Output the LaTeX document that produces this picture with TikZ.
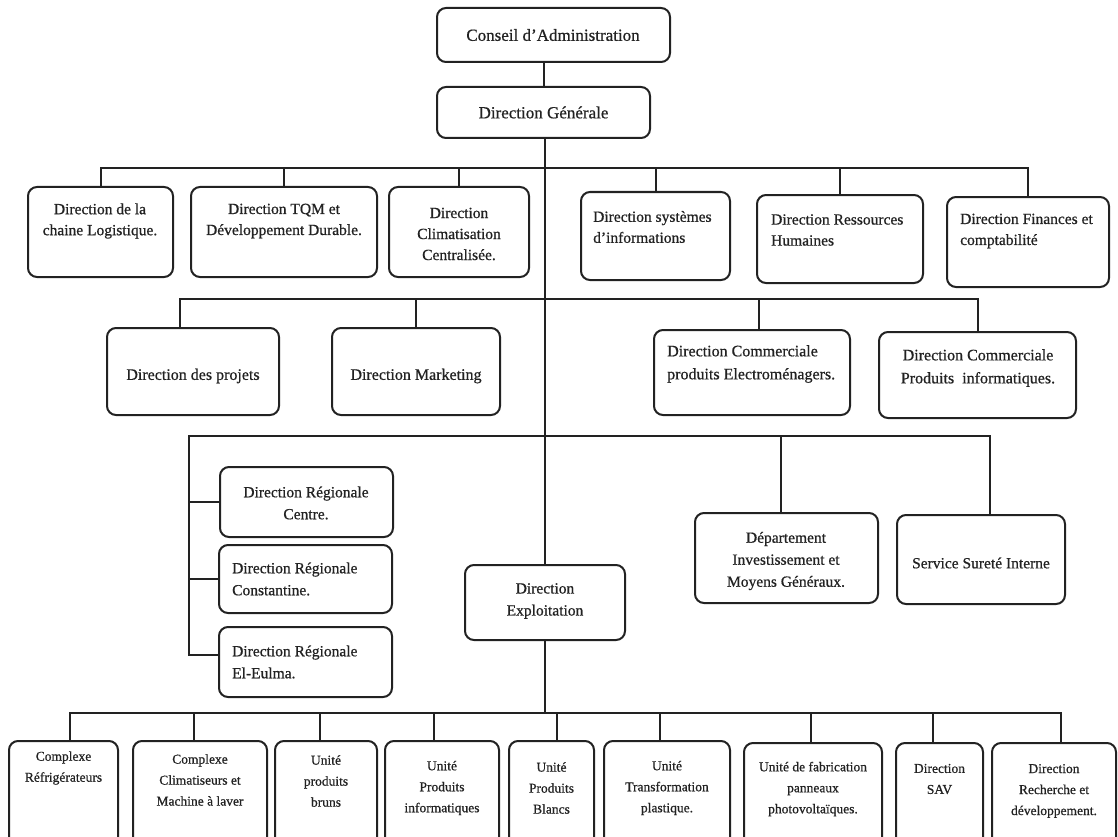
\documentclass[tikz,border=0pt]{standalone}
\usepackage{fontspec}
\setmainfont{Liberation Serif}[FakeBold=0.7]
\usetikzlibrary{fit,calc}
\definecolor{ink}{HTML}{222222}
\begin{document}
\begin{tikzpicture}[x=1pt,y=-1pt,
  obox/.style={draw=ink, line width=2pt, rounded corners=9pt, inner sep=0pt, outer sep=0pt},
  lk/.style={draw=ink, line width=2pt},
  ttop/.style={inner sep=0pt, align=center, text=ink, font=\fontsize{17}{21}\selectfont},
  tr1/.style={inner sep=0pt, align=center, text=ink, font=\fontsize{15.5}{21}\selectfont},
  tr1l/.style={tr1, align=left, anchor=west},
  tr2/.style={inner sep=0pt, align=center, text=ink, font=\fontsize{16}{23}\selectfont},
  tr2l/.style={tr2, align=left, anchor=west},
  tr3/.style={inner sep=0pt, align=center, text=ink, font=\fontsize{15.5}{22}\selectfont},
  tr3l/.style={tr3, align=left, anchor=west},
  tbot/.style={inner sep=0pt, align=center, text=ink, font=\fontsize{13.5}{21}\selectfont}]
\useasboundingbox (0,0) rectangle (1118,837);
\fill[white] (0,0) rectangle (1118,837);

% top
\node[obox, fit={(437,8) (670,62)}] (ca) {};
\node[ttop] (cat) at (553,35) {Conseil d'Administration};
\node[obox, fit={(437,87) (650,138)}] (dg) {};
\node[ttop] (dgt) at (543.5,112.5) {Direction Générale};

% row 1
\node[obox, fit={(28,187) (173,277)}] (b1) {};
\node[tr1] (b1t) at (100,221) {Direction de la\\chaine Logistique.};
\node[obox, fit={(191,187) (377,277)}] (b2) {};
\node[tr1] (b2t) at (284,221) {Direction TQM et\\Développement Durable.};
\node[obox, fit={(389,187) (529,277)}] (b3) {};
\node[tr1] (b3t) at (459,234) {Direction\\Climatisation\\Centralisée.};
\node[obox, fit={(581,192) (730,280)}] (b4) {};
\node[tr1l] (b4t) at (593,227) {Direction systèmes\\d'informations};
\node[obox, fit={(757,195) (923,283)}] (b5) {};
\node[tr1l] (b5t) at (771,230) {Direction Ressources\\Humaines};
\node[obox, fit={(947,197) (1109,287)}] (b6) {};
\node[tr1l] (b6t) at (960,231) {Direction Finances et\\comptabilité};

% row 2
\node[obox, fit={(107,328) (279,415)}] (c1) {};
\node[tr2] (c1t) at (193,376) {Direction des projets};
\node[obox, fit={(332,328) (500,415)}] (c2) {};
\node[tr2] (c2t) at (416,376) {Direction Marketing};
\node[obox, fit={(654,330) (850,415)}] (c3) {};
\node[tr2l] (c3t) at (667,364) {Direction Commerciale\\produits Electroménagers.};
\node[obox, fit={(879,332) (1076,418)}] (c4) {};
\node[tr2] (c4t) at (978,368) {Direction Commerciale\\Produits\ \ informatiques.};

% row 3
\node[obox, fit={(220,467) (393,537)}] (d1) {};
\node[tr3] (d1t) at (306,503) {Direction Régionale\\Centre.};
\node[obox, fit={(219,545) (392,613)}] (d2) {};
\node[tr3l] (d2t) at (232,579) {Direction Régionale\\Constantine.};
\node[obox, fit={(219,627) (392,697)}] (d3) {};
\node[tr3l] (d3t) at (232,662) {Direction Régionale\\El-Eulma.};
\node[obox, fit={(465,565) (625,640)}] (de) {};
\node[tr3] (det) at (545,601) {Direction\\Exploitation};
\node[obox, fit={(695,513) (878,603)}] (e1) {};
\node[tr3] (e1t) at (786,561) {Département\\Investissement et\\Moyens Généraux.};
\node[obox, fit={(897,515) (1065,604)}] (e2) {};
\node[tr3] (e2t) at (981,563) {Service Sureté Interne};

% bottom row
\node[obox, fit={(9,741) (118,852)}] (f1) {};
\node[tbot] (f1t) at (63.5,768) {Complexe\\Réfrigérateurs};
\node[obox, fit={(133,741) (267,852)}] (f2) {};
\node[tbot] (f2t) at (200,780) {Complexe\\Climatiseurs et\\Machine à laver};
\node[obox, fit={(275,741) (377,852)}] (f3) {};
\node[tbot] (f3t) at (326,781) {Unité\\produits\\bruns};
\node[obox, fit={(385,741) (499,852)}] (f4) {};
\node[tbot] (f4t) at (442,788) {Unité\\Produits\\informatiques};
\node[obox, fit={(509,741) (594,852)}] (f5) {};
\node[tbot] (f5t) at (551.5,788) {Unité\\Produits\\Blancs};
\node[obox, fit={(604,741) (730,852)}] (f6) {};
\node[tbot] (f6t) at (667,788) {Unité\\Transformation\\plastique.};
\node[obox, fit={(744,743) (882,852)}] (f7) {};
\node[tbot] (f7t) at (813,789) {Unité de fabrication\\panneaux\\photovoltaïques.};
\node[obox, fit={(896,743) (983,852)}] (f8) {};
\node[tbot] (f8t) at (939.5,779) {Direction\\SAV};
\node[obox, fit={(992,743) (1116,852)}] (f9) {};
\node[tbot] (f9t) at (1054,791) {Direction\\Recherche et\\développement.};

% bus coordinates
\coordinate (r1) at (545,168);
\coordinate (r2) at (545,299);
\coordinate (r3) at (545,436);
\coordinate (l3) at (189,436);
\coordinate (r4) at (545,713);

% connectors
\draw[lk] (ca.south -| dg.north) -- (dg.north);
\draw[lk] (dg.south -| de.north) -- (de.north);
\draw[lk] (de.south) -- (r4);

\draw[lk] (b1.north) |- (r1);
\draw[lk] (b2.north) |- (r1);
\draw[lk] (b3.north) |- (r1);
\draw[lk] (b4.north) |- (r1);
\draw[lk] (b5.north) |- (r1);
\draw[lk] (b6.north) |- (r1);

\draw[lk] ([xshift=-13pt]c1.north) |- (r2);
\draw[lk] (c2.north) |- (r2);
\draw[lk] ([xshift=7pt]c3.north) |- (r2);
\draw[lk] (c4.north) |- (r2);

\draw[lk] (r3) -- (l3) |- ([yshift=7pt]d3.west);
\draw[lk] (d1.west) -- (d1.west -| l3);
\draw[lk] (d2.west) -- (d2.west -| l3);
\draw[lk] ([xshift=-6pt]e1.north) |- (r3);
\draw[lk] ([xshift=9pt]e2.north) |- (r3);

\draw[lk] ([xshift=6.5pt]f1.north) |- (r4);
\draw[lk] ([xshift=-6pt]f2.north) |- (r4);
\draw[lk] ([xshift=-6pt]f3.north) |- (r4);
\draw[lk] ([xshift=-8pt]f4.north) |- (r4);
\draw[lk] ([xshift=5.5pt]f5.north) |- (r4);
\draw[lk] ([xshift=-7pt]f6.north) |- (r4);
\draw[lk] ([xshift=-2pt]f7.north) |- (r4);
\draw[lk] ([xshift=-6.5pt]f8.north) |- (r4);
\draw[lk] ([xshift=7pt]f9.north) |- (r4);
\end{tikzpicture}
\end{document}
